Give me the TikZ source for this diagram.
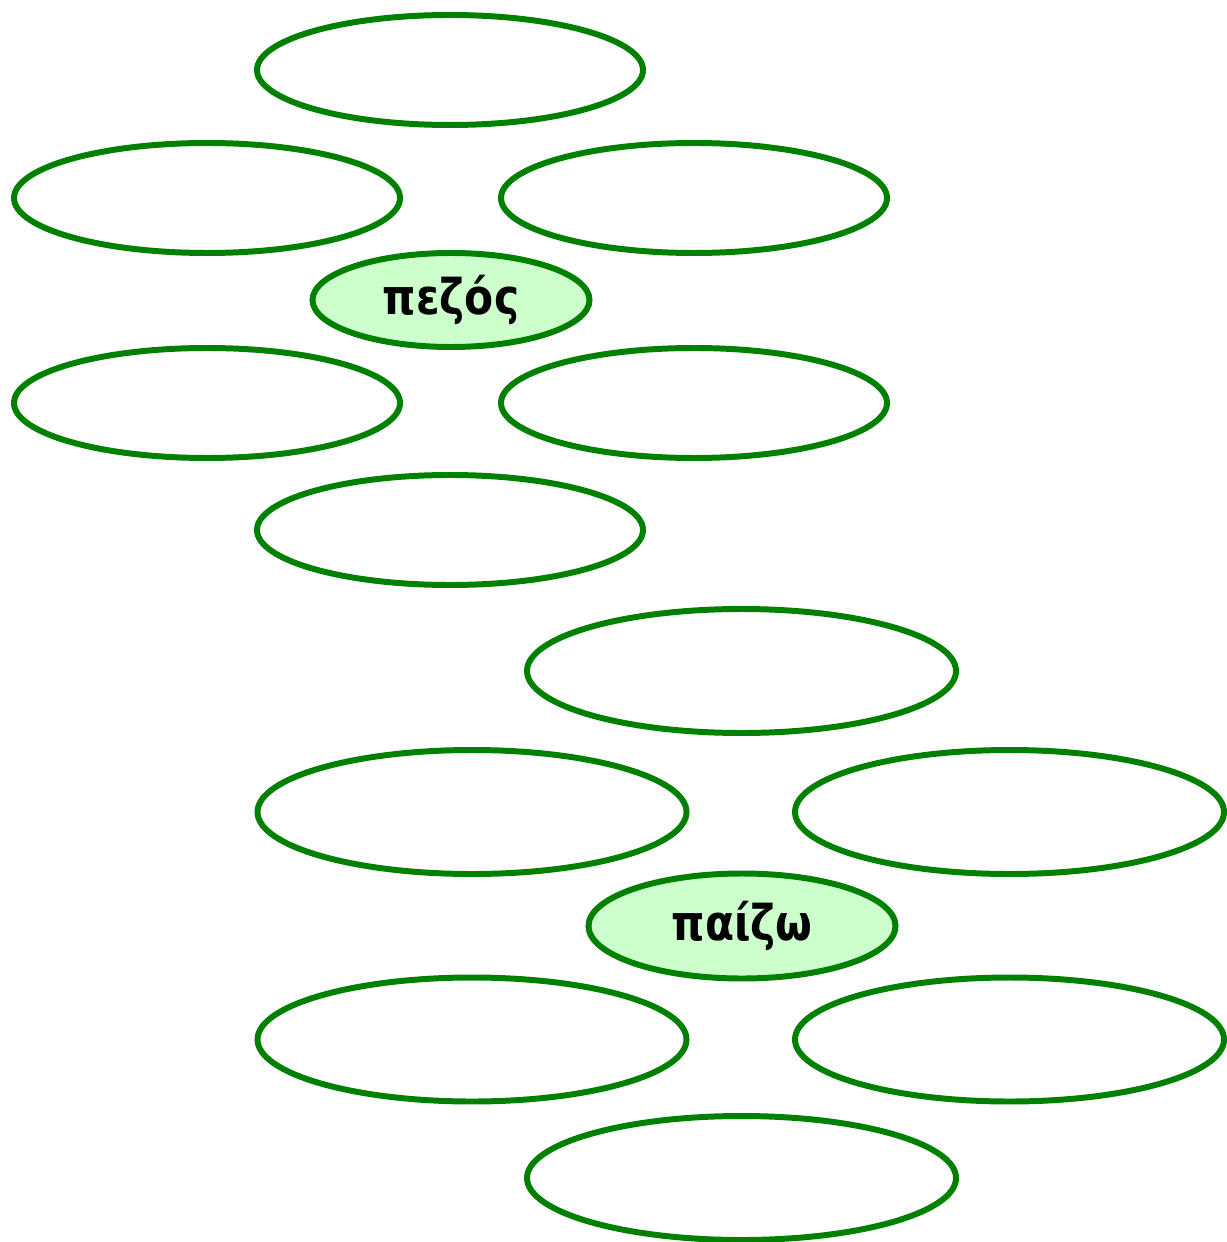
\documentclass[tikz,border=0pt]{standalone}
\usepackage{fontspec}
\setmainfont{DejaVu Sans}
\newfontfamily\wordfont[FakeStretch=0.86]{DejaVu Sans}
\usepackage{tikz}
\usetikzlibrary{shapes.geometric, positioning, calc}
\definecolor{leafgreen}{RGB}{0, 128, 0}
\definecolor{palegreen}{RGB}{204, 255, 204}

\begin{document}
\begin{tikzpicture}[
  petal/.style={draw=leafgreen, ellipse, line width=1.7pt, inner sep=0pt,
                minimum width=3.86cm, minimum height=1.10cm},
  bigpetal/.style={petal, minimum width=4.29cm, minimum height=1.24cm},
  core/.style={petal, fill=palegreen, font=\wordfont\fontsize{14}{16}\selectfont\bfseries,
               minimum width=2.77cm, minimum height=0.94cm},
  bigcore/.style={core, minimum width=3.07cm, minimum height=1.05cm}
]
  \useasboundingbox (0,0) rectangle (12.26,-12.42);

  % first word
  \node[core] (pezos) at (4.51,-3.00) {πεζός};
  \node[petal] (pezos-n)  at (4.50,-0.70) {};
  \node[petal] (pezos-nw) at (2.07,-1.98) {};
  \node[petal] (pezos-ne) at (6.94,-1.98) {};
  \node[petal] (pezos-sw) at (2.07,-4.03) {};
  \node[petal] (pezos-se) at (6.94,-4.03) {};
  \node[petal] (pezos-s)  at (4.50,-5.30) {};

  % second word
  \node[bigcore] (paizo) at (7.42,-9.26) {παίζω};
  \node[bigpetal] (paizo-n)  at (7.415,-6.71) {};
  \node[bigpetal] (paizo-nw) at (4.72,-8.12) {};
  \node[bigpetal] (paizo-ne) at (10.095,-8.12) {};
  \node[bigpetal] (paizo-sw) at (4.72,-10.395) {};
  \node[bigpetal] (paizo-se) at (10.095,-10.395) {};
  \node[bigpetal] (paizo-s)  at (7.415,-11.78) {};
\end{tikzpicture}
\end{document}
